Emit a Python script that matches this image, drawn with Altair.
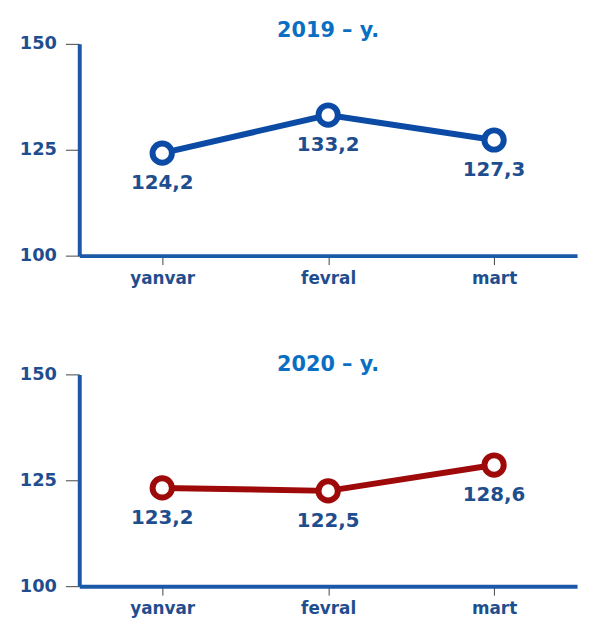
import altair as alt
import pandas as pd

months = ["yanvar", "fevral", "mart"]
values_2019 = [124.2, 133.2, 127.3]
values_2020 = [123.2, 122.5, 128.6]
titles = ["2019 – y.", "2020 – y."]
line_colors = ["#0B4BA5", "#9E0A0A"]
y_ticks = [100, 125, 150]

FONT = "DejaVu Sans"
AXIS_COLOR = "#1B58A8"
LABEL_COLOR = "#1F4E8F"


def panel(values, title, color, offset):
    df = pd.DataFrame({
        "month": months,
        "value": values,
        "label": [f"{v:.1f}".replace(".", ",") for v in values],
    })
    x = alt.X("month:N", sort=months,
              scale=alt.Scale(type="point", padding=0.5),
              axis=alt.Axis(title=None, labelAngle=0, labelFont=FONT, labelFontSize=17,
                            labelFontWeight="bold", labelColor=LABEL_COLOR,
                            domainColor=AXIS_COLOR, domainWidth=4,
                            tickColor="#444444", tickSize=9, tickWidth=1,
                            labelPadding=6))
    y = alt.Y("value:Q", scale=alt.Scale(domain=[100, 150], nice=False, zero=False),
              axis=alt.Axis(title=None, values=y_ticks, grid=False, labelFont=FONT,
                            labelFontSize=18, labelFontWeight="bold", labelColor=LABEL_COLOR,
                            domainColor=AXIS_COLOR, domainWidth=4,
                            tickColor="#444444", tickSize=14, tickWidth=1,
                            labelPadding=9))
    base = alt.Chart(df).encode(x=x, y=y)
    line = base.mark_line(color=color, strokeWidth=6)
    pts = base.mark_point(shape="circle", filled=False, fill="white", fillOpacity=1,
                          color=color, strokeWidth=6, size=380, opacity=1)
    txt = base.mark_text(dy=30, font=FONT, fontSize=20, fontWeight="bold",
                         color=LABEL_COLOR).encode(text="label:N")
    return alt.layer(line, pts, txt).properties(
        width=503, height=214,
        title=alt.TitleParams(title, font=FONT, fontSize=21, fontWeight="bold",
                              color="#0A6FC2", anchor="middle", offset=offset),
    )


chart = alt.vconcat(
    panel(values_2019, titles[0], line_colors[0], -6),
    panel(values_2020, titles[1], line_colors[1], -10),
    spacing=69,
    background="white",
    padding={"left": 11, "top": 9, "right": 5, "bottom": 5},
).configure_view(stroke=None, strokeWidth=0)

chart.save("out.html", embed_options={"renderer": "svg", "actions": False})
